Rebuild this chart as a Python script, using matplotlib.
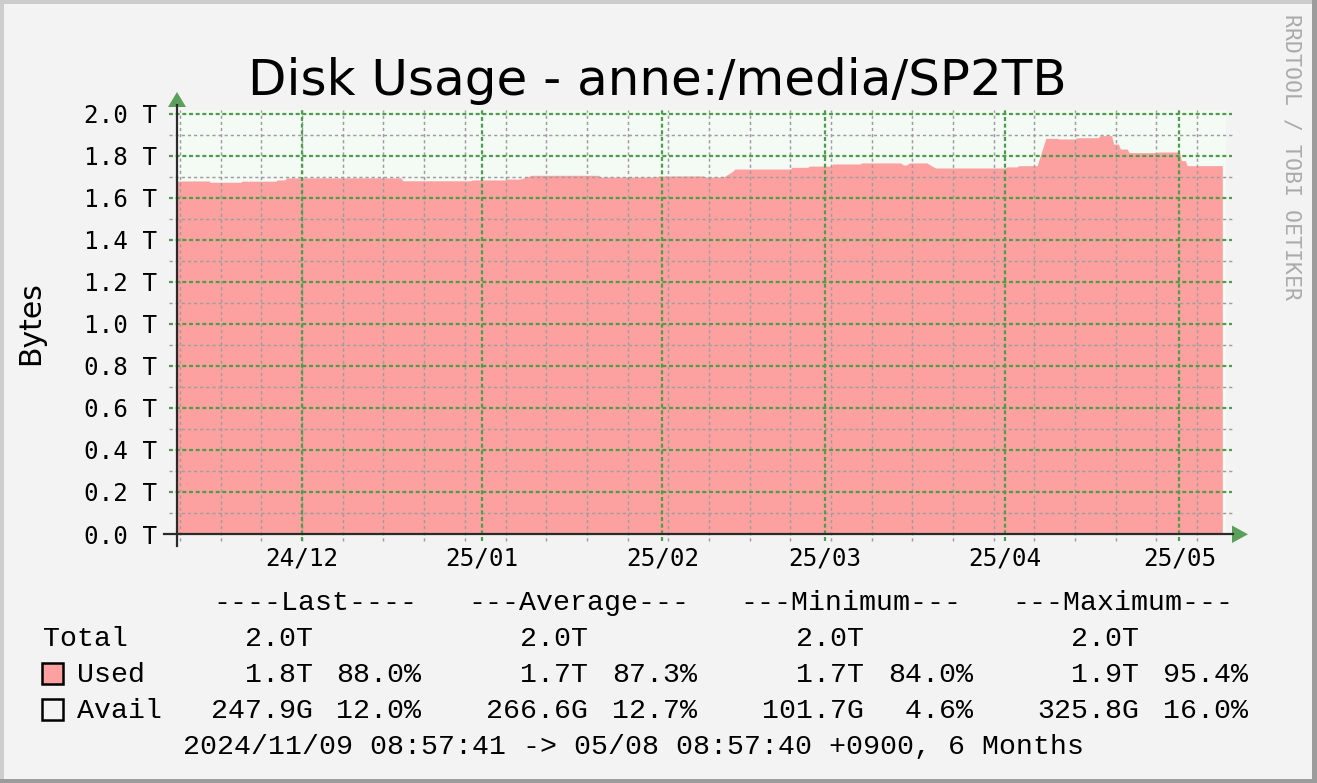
import numpy as np
import pandas as pd
import matplotlib
matplotlib.use("Agg")
import matplotlib.pyplot as plt
import matplotlib.dates as mdates
from matplotlib.patches import Rectangle, Polygon
from matplotlib.lines import Line2D

W, H = 1317, 783

# ---------------- data ----------------
start = pd.Timestamp("2024-11-09 08:57:41")
end = pd.Timestamp("2025-05-08 08:57:40")

used_time = [
    "2024-11-09 08:57", "2024-11-15 00:00", "2024-11-15 04:00", "2024-11-20 12:00",
    "2024-11-20 16:00", "2024-11-26 12:00", "2024-11-26 16:00", "2024-11-28 00:00",
    "2024-11-28 08:00", "2024-12-18 00:00", "2024-12-18 08:00", "2024-12-30 00:00",
    "2024-12-30 08:00", "2025-01-05 00:00", "2025-01-05 08:00", "2025-01-07 12:00",
    "2025-01-09 12:00", "2025-01-21 00:00", "2025-01-21 08:00", "2025-01-31 00:00",
    "2025-01-31 08:00", "2025-02-08 00:00", "2025-02-08 08:00", "2025-02-11 12:00",
    "2025-02-13 00:00", "2025-02-13 12:00", "2025-02-23 00:00", "2025-02-23 08:00",
    "2025-02-26 00:00", "2025-02-26 08:00", "2025-03-02 00:00", "2025-03-02 08:00",
    "2025-03-07 00:00", "2025-03-07 08:00", "2025-03-14 00:00", "2025-03-14 12:00",
    "2025-03-15 00:00", "2025-03-15 12:00", "2025-03-18 12:00", "2025-03-20 00:00",
    "2025-04-01 00:00", "2025-04-01 08:00", "2025-04-03 00:00", "2025-04-03 08:00",
    "2025-04-06 12:00", "2025-04-08 00:00", "2025-04-10 00:00", "2025-04-10 08:00",
    "2025-04-13 00:00", "2025-04-13 08:00", "2025-04-17 00:00", "2025-04-17 08:00",
    "2025-04-19 08:00", "2025-04-19 16:00", "2025-04-20 12:00", "2025-04-20 20:00",
    "2025-04-22 00:00", "2025-04-22 08:00", "2025-04-27 00:00", "2025-04-27 08:00",
    "2025-05-01 00:00", "2025-05-01 08:00", "2025-05-02 00:00", "2025-05-02 08:00",
    "2025-05-08 08:57",
]
used_tb = [
    1.681, 1.681, 1.675, 1.675,
    1.680, 1.680, 1.686, 1.686,
    1.696, 1.696, 1.682, 1.682,
    1.686, 1.686, 1.690, 1.690,
    1.708, 1.708, 1.700, 1.700,
    1.705, 1.705, 1.700, 1.700,
    1.725, 1.738, 1.738, 1.746,
    1.746, 1.752, 1.752, 1.762,
    1.762, 1.767, 1.767, 1.757,
    1.757, 1.767, 1.767, 1.743,
    1.743, 1.748, 1.748, 1.754,
    1.754, 1.884, 1.884, 1.881,
    1.881, 1.887, 1.887, 1.897,
    1.897, 1.857, 1.857, 1.833,
    1.833, 1.816, 1.816, 1.819,
    1.819, 1.778, 1.778, 1.754,
    1.754,
]

y_ticks = [0.0, 0.2, 0.4, 0.6, 0.8, 1.0, 1.2, 1.4, 1.6, 1.8, 2.0]
y_tick_labels = ["0.0 T", "0.2 T", "0.4 T", "0.6 T", "0.8 T", "1.0 T",
                 "1.2 T", "1.4 T", "1.6 T", "1.8 T", "2.0 T"]

headers = ["----Last----", "---Average---", "---Minimum---", "---Maximum---"]
total_vals = ["2.0T", "2.0T", "2.0T", "2.0T"]
used_vals = ["1.8T", "1.7T", "1.7T", "1.9T"]
used_pct = ["88.0%", "87.3%", "84.0%", "95.4%"]
avail_vals = ["247.9G", "266.6G", "101.7G", "325.8G"]
avail_pct = ["12.0%", "12.7%", "4.6%", "16.0%"]
footer = "2024/11/09 08:57:41 -> 05/08 08:57:40 +0900, 6 Months"

# ---------------- colours ----------------
BACK = "#F3F3F3"
CANVAS = "#F4FAF4"
RED = "#FCA19F"
MGRID = "#4C9E4C"
GRID = "#9E9E9E"
ARROW = "#5AA05A"
AXIS = "#2A2A2A"
MONO = "Liberation Mono"


def fx(px):
    return px / W


def fy(py):
    return 1 - py / H


fig = plt.figure(figsize=(W / 100, H / 100), dpi=100, facecolor=BACK)

# frame shading
fig.add_artist(Rectangle((0, 0), fx(4), 1, transform=fig.transFigure, color="#CDCDCD", lw=0))
fig.add_artist(Rectangle((0, fy(4)), 1, 4 / H, transform=fig.transFigure, color="#CDCDCD", lw=0))
fig.add_artist(Rectangle((fx(1312), 0), 5 / W, 1, transform=fig.transFigure, color="#9C9C9C", lw=0))
fig.add_artist(Rectangle((0, 0), 1, 4 / H, transform=fig.transFigure, color="#9C9C9C", lw=0))

left_px, right_px, top_px, bot_px = 176.5, 1226, 110, 534
ax = fig.add_axes([fx(left_px), fy(bot_px), (right_px - left_px) / W, (bot_px - top_px) / H])
ax.set_facecolor(CANVAS)
for s in ax.spines.values():
    s.set_visible(False)

px_per_day = 5.81
days_span = (right_px - left_px) / px_per_day
ax.set_xlim(start, start + pd.Timedelta(days=days_span))
ax.set_ylim(0, (bot_px - top_px) / 210.0)

t = pd.to_datetime(used_time)
ax.fill_between(t, 0, used_tb, color=RED, lw=0, zorder=1)

# horizontal grid (minor every 0.1, major on the tick values)
ax_w = right_px - left_px
ax_h = bot_px - top_px
xl, xr = -7 / ax_w, (1232 - left_px) / ax_w
for v in y_ticks[1:]:
    ax.axhline(v, xmin=xl, xmax=xr, color=MGRID, lw=1.6, ls=(0, (1.8, 1.2)), clip_on=False, zorder=3)
for a, b in zip(y_ticks[:-1], y_ticks[1:]):
    ax.axhline((a + b) / 2, xmin=xl, xmax=xr, color=GRID, lw=1.05, ls=(0, (2.2, 2.0)), clip_on=False, zorder=2)

# vertical grid: weeks (Sundays) and months
weeks = pd.date_range(start.normalize(), end, freq="W-SUN")
months = pd.date_range(start.normalize(), end, freq="MS")
for d in weeks:
    ax.axvline(d.to_pydatetime(), ymin=-7 / ax_h, ymax=1, color=GRID, lw=1.05, ls=(0, (2.2, 2.0)), clip_on=False, zorder=2)
for d in months:
    ax.axvline(d.to_pydatetime(), ymin=-7 / ax_h, ymax=1, color=MGRID, lw=1.6, ls=(0, (1.8, 1.2)), clip_on=False, zorder=3)

ax.set_yticks(y_ticks)
ax.set_yticklabels(y_tick_labels, fontfamily="DejaVu Sans Mono", fontsize=17.5)
ax.set_xticks([d.to_pydatetime() for d in months])
ax.xaxis.set_major_formatter(mdates.DateFormatter("%y/%m"))
ax.tick_params(axis="both", length=0)
ax.tick_params(axis="y", pad=14)
ax.tick_params(axis="x", pad=9)
for lab in ax.get_xticklabels():
    lab.set_fontfamily("DejaVu Sans Mono")
    lab.set_fontsize(17.5)

# axis lines and arrows
fig.add_artist(Line2D([fx(164), fx(1233)], [fy(534), fy(534)], transform=fig.transFigure, color=AXIS, lw=1.6))
fig.add_artist(Line2D([fx(177), fx(177)], [fy(546), fy(105)], transform=fig.transFigure, color=AXIS, lw=1.6))
fig.add_artist(Polygon([(fx(1232), fy(525.5)), (fx(1232), fy(543)), (fx(1248), fy(534.3))],
                       transform=fig.transFigure, color=ARROW, lw=0))
fig.add_artist(Polygon([(fx(168), fy(107)), (fx(186), fy(107)), (fx(177), fy(92))],
                       transform=fig.transFigure, color=ARROW, lw=0))

# title, labels, watermark
fig.text(fx(657.5), fy(95), "Disk Usage - anne:/media/SP2TB", ha="center", va="baseline",
         fontsize=36, fontfamily="DejaVu Sans")
fig.text(fx(31), fy(323), "Bytes", rotation=90, ha="center", va="center",
         fontsize=21.5, fontfamily="DejaVu Sans")
fig.text(fx(1292), fy(14), "RRDTOOL / TOBI OETIKER", rotation=270, ha="center", va="top",
         fontsize=15.5, fontfamily="DejaVu Sans Mono", color="#ABABAB")

# legend block
lg = dict(fontsize=20.3, fontfamily=MONO, va="baseline", ha="left")
header_x = [213, 468, 740, 1012]
val_x = [211, 486, 762, 1037]
pct_x = [336, 612, 888, 1163]
for x, s in zip(header_x, headers):
    fig.text(fx(x), fy(610), s, **lg)

fig.text(fx(43), fy(646), "Total", **lg)
fig.text(fx(77), fy(682), "Used", **lg)
fig.text(fx(77), fy(718), "Avail", **lg)
fig.add_artist(Rectangle((fx(42), fy(684)), 21 / W, 21 / H, transform=fig.transFigure,
                         facecolor=RED, edgecolor="black", lw=1.8))
fig.add_artist(Rectangle((fx(42), fy(720)), 21 / W, 21 / H, transform=fig.transFigure,
                         facecolor=BACK, edgecolor="black", lw=1.8))
for i in range(4):
    fig.text(fx(val_x[i]), fy(646), f"{total_vals[i]:>6}", **lg)
    fig.text(fx(val_x[i]), fy(682), f"{used_vals[i]:>6}", **lg)
    fig.text(fx(pct_x[i]), fy(682), f"{used_pct[i]:>5}", **lg)
    fig.text(fx(val_x[i]), fy(718), f"{avail_vals[i]:>6}", **lg)
    fig.text(fx(pct_x[i]), fy(718), f"{avail_pct[i]:>5}", **lg)

fig.text(fx(183), fy(754), footer, **lg)

fig.savefig("out.png", dpi=100, facecolor=BACK)
